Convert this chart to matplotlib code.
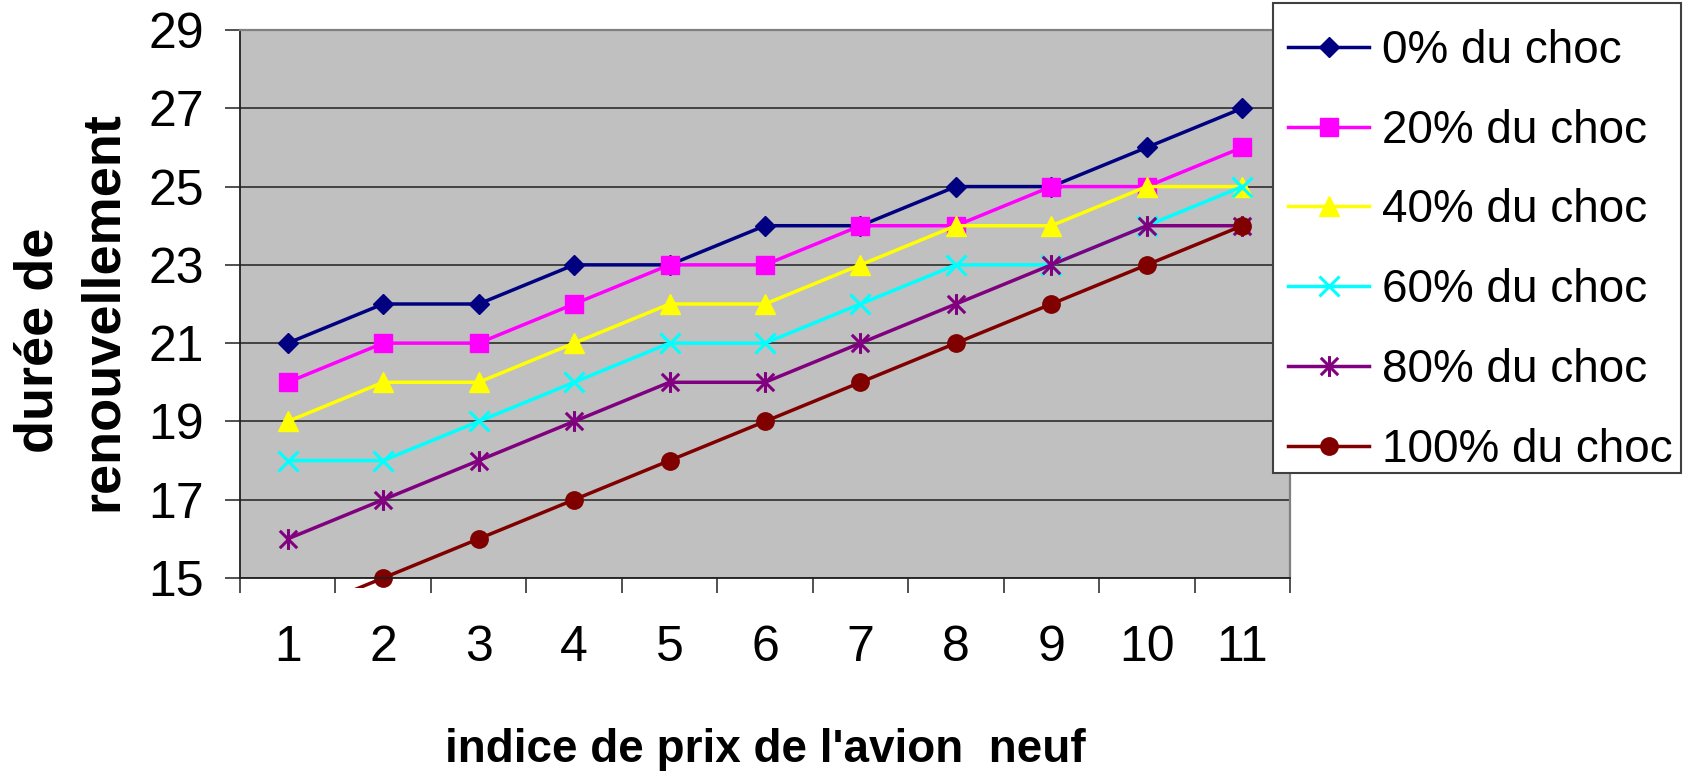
import matplotlib.pyplot as plt
from matplotlib import font_manager
from matplotlib.patches import Rectangle
from matplotlib.path import Path

plt.rcParams['font.family'] = ['Liberation Sans', 'DejaVu Sans']

indices = [1, 2, 3, 4, 5, 6, 7, 8, 9, 10, 11]
choc_0 = [21, 22, 22, 23, 23, 24, 24, 25, 25, 26, 27]
choc_20 = [20, 21, 21, 22, 23, 23, 24, 24, 25, 25, 26]
choc_40 = [19, 20, 20, 21, 22, 22, 23, 24, 24, 25, 25]
choc_60 = [18, 18, 19, 20, 21, 21, 22, 23, 23, 24, 25]
choc_80 = [16, 17, 18, 19, 20, 20, 21, 22, 23, 24, 24]
choc_100 = [14, 15, 16, 17, 18, 19, 20, 21, 22, 23, 24]

# étoile façon Excel : un X barré d'un trait vertical
etoile = Path([(-0.5, -0.5), (0.5, 0.5), (-0.5, 0.5), (0.5, -0.5), (0, -0.6), (0, 0.6)],
              [Path.MOVETO, Path.LINETO, Path.MOVETO, Path.LINETO, Path.MOVETO, Path.LINETO])

series = [
    ('0% du choc', choc_0, '#000080', 'D', 10.5),
    ('20% du choc', choc_20, '#FF00FF', 's', 13),
    ('40% du choc', choc_40, '#FFFF00', '^', 15),
    ('60% du choc', choc_60, '#00FFFF', 'x', 15),
    ('80% du choc', choc_80, '#800080', etoile, 15),
    ('100% du choc', choc_100, '#800000', 'o', 12.5),
]

fig = plt.figure(figsize=(16.84, 7.71), dpi=100)
ax = fig.add_axes([240 / 1684, 193 / 771, 1050 / 1684, 548 / 771])
ax.set_facecolor('#C0C0C0')

# zone de découpe un peu plus basse que le cadre, comme sous Excel
zone = Rectangle((0, -0.018), 1, 1.018, transform=ax.transAxes, facecolor='none')

for nom, valeurs, couleur, marqueur, taille in series:
    fin = isinstance(marqueur, Path) or marqueur == 'x'
    ligne, = ax.plot(indices, valeurs, color=couleur, marker=marqueur, markersize=taille,
                     markeredgewidth=2.2 if fin else 1, markeredgecolor=couleur,
                     linewidth=2.5, label=nom)
    ligne.set_clip_path(zone)

ax.set_xlim(0.5, 11.5)
ax.set_ylim(15, 29)
ax.set_yticks(range(15, 30, 2))
ax.yaxis.grid(True, color='#202020', linewidth=1.1)
ax.set_axisbelow(True)

# graduations entre les catégories, étiquettes centrées
ax.set_xticks(indices)
ax.set_xticks([i + 0.5 for i in range(0, 12)], minor=True)
ax.tick_params(axis='x', which='major', length=0, pad=34, labelsize=36)
ax.tick_params(axis='x', which='minor', length=11, width=1.1, direction='out',
               color='#202020')
ax.tick_params(axis='y', length=11, width=1.1, pad=15, labelsize=36, color='#202020')

for cote in ('top', 'right'):
    ax.spines[cote].set_color('#808080')
    ax.spines[cote].set_linewidth(1.6)
for cote in ('left', 'bottom'):
    ax.spines[cote].set_color('#202020')
    ax.spines[cote].set_linewidth(1.3)

polices = {f.name for f in font_manager.fontManager.ttflist}
if 'Liberation Sans Narrow' in polices:
    police_x, taille_x = 'Liberation Sans Narrow', 39
else:
    police_x, taille_x = 'Liberation Sans', 33

fig.text(765 / 1684, 9 / 771, "indice de prix de l'avion  neuf", family=police_x,
         fontsize=taille_x, fontweight='bold', ha='center', va='baseline')

for x_base, y_centre, texte in ((53, 340, 'durée de'), (117, 311, 'renouvellement')):
    fig.text(x_base / 1684, (771 - y_centre) / 771, texte, fontsize=39, fontweight='bold',
             rotation=90, rotation_mode='anchor', ha='center', va='baseline')

# cadre blanc de la légende, posé sur le bord droit du graphique
cadre = Rectangle((1273 / 1684, 1 - 473 / 771), 408 / 1684, 470 / 771,
                  transform=fig.transFigure, facecolor='white', edgecolor='#404040',
                  linewidth=1.5, zorder=4)
fig.add_artist(cadre)

leg = fig.legend(loc='upper left', bbox_to_anchor=(1288 / 1684, 1 - 29 / 771), fontsize=33,
                 frameon=False, handlelength=1.77, handletextpad=0.28,
                 labelspacing=0.78, borderpad=0, borderaxespad=0)
leg.set_zorder(5)

fig.savefig('out.png', dpi=100)
